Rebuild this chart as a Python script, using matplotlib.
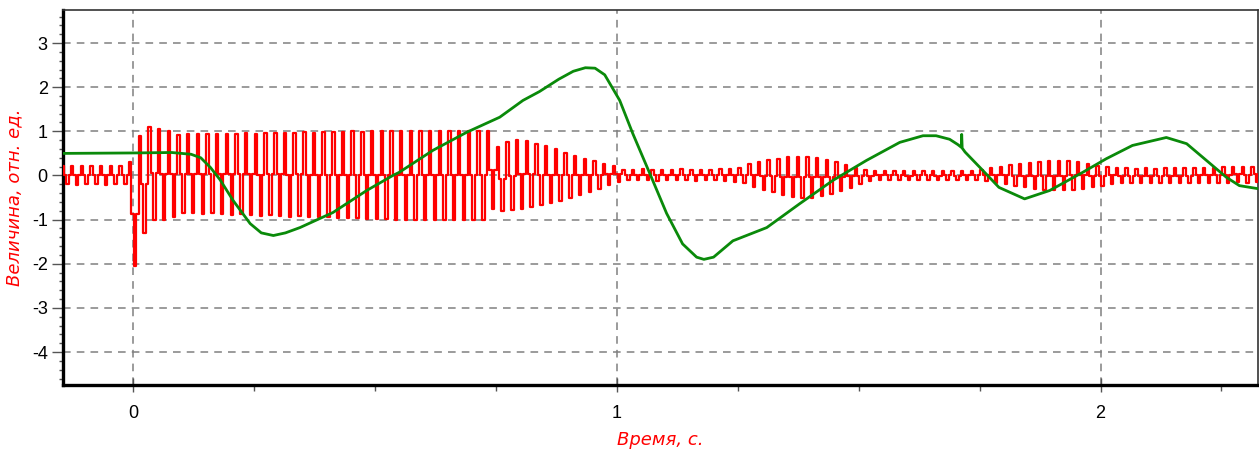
import numpy as np
import matplotlib.pyplot as plt
from matplotlib.ticker import MultipleLocator

# red signal: 50 Hz, one upper and one lower extreme per cycle
red_period = 0.02
red_start = -0.146
red_upper = [
    0.22, 0.22, 0.21, 0.22, 0.22, 0.21, 0.22, 0.30, 0.90, 1.10,
    1.05, 1.00, 0.92, 0.93, 0.94, 0.93, 0.95, 0.94, 0.95, 0.96,
    0.95, 0.96, 0.97, 0.96, 0.97, 0.98, 0.97, 0.98, 0.99, 0.98,
    1.00, 0.99, 1.00, 1.00, 1.00, 1.00, 1.00, 1.00, 1.00, 1.00,
    1.00, 1.00, 1.00, 1.00, 1.00, 0.65, 0.75, 0.80, 0.78, 0.72,
    0.66, 0.60, 0.52, 0.45, 0.38, 0.32, 0.27, 0.22, 0.13, 0.12,
    0.14, 0.12, 0.13, 0.12, 0.14, 0.12, 0.13, 0.13, 0.14, 0.15,
    0.18, 0.25, 0.30, 0.35, 0.38, 0.41, 0.42, 0.42, 0.40, 0.36,
    0.30, 0.24, 0.18, 0.12, 0.10, 0.11, 0.10, 0.10, 0.11, 0.10,
    0.10, 0.11, 0.10, 0.10, 0.11, 0.12, 0.16, 0.20, 0.23, 0.26,
    0.28, 0.30, 0.32, 0.33, 0.33, 0.30, 0.26, 0.22, 0.20, 0.17,
    0.16, 0.15, 0.16, 0.15, 0.16, 0.17, 0.16, 0.17, 0.18, 0.18,
    0.19, 0.20, 0.20, 0.20,
]
red_lower = [
    -0.20, -0.21, -0.20, -0.20, -0.21, -0.20, -0.20, -2.05, -1.30, -1.00,
    -1.00, -0.95, -0.85, -0.86, -0.87, -0.86, -0.88, -0.89, -0.88, -0.90,
    -0.91, -0.90, -0.92, -0.93, -0.92, -0.94, -0.95, -0.94, -0.96, -0.97,
    -0.96, -0.98, -0.98, -0.99, -1.00, -1.00, -1.00, -1.00, -1.00, -1.00,
    -1.00, -1.00, -1.00, -1.00, -0.75, -0.80, -0.78, -0.75, -0.72, -0.68,
    -0.62, -0.58, -0.52, -0.45, -0.38, -0.30, -0.22, -0.15, -0.10, -0.11,
    -0.10, -0.12, -0.10, -0.11, -0.10, -0.12, -0.11, -0.10, -0.12, -0.14,
    -0.18, -0.25, -0.32, -0.38, -0.44, -0.48, -0.50, -0.50, -0.47, -0.42,
    -0.35, -0.28, -0.20, -0.13, -0.10, -0.11, -0.10, -0.11, -0.10, -0.10,
    -0.11, -0.10, -0.11, -0.10, -0.11, -0.12, -0.16, -0.20, -0.24, -0.27,
    -0.30, -0.32, -0.34, -0.34, -0.33, -0.30, -0.27, -0.23, -0.20, -0.18,
    -0.17, -0.18, -0.17, -0.18, -0.17, -0.18, -0.17, -0.16, -0.17, -0.16,
    -0.16, -0.15, -0.16, -0.15,
]

# green signal: slow curve (time, value)
green_t = [-0.145, 0.0, 0.08, 0.12, 0.14, 0.16, 0.18, 0.207, 0.242, 0.265,
           0.29, 0.315, 0.345, 0.413, 0.483, 0.537, 0.55, 0.62, 0.69, 0.758,
           0.806, 0.84, 0.88, 0.91, 0.935, 0.955, 0.975, 0.99, 1.006, 1.033,
           1.068, 1.103, 1.136, 1.165, 1.18, 1.2, 1.24, 1.31, 1.378, 1.447,
           1.516, 1.585, 1.633, 1.66, 1.688, 1.705, 1.712, 1.713, 1.714, 1.72,
           1.757, 1.79, 1.843, 1.895, 1.963, 2.012, 2.066, 2.136, 2.178, 2.219,
           2.26, 2.287, 2.326]
green_v = [0.50, 0.51, 0.52, 0.48, 0.40, 0.18, -0.10, -0.57, -1.09, -1.30,
           -1.36, -1.30, -1.18, -0.84, -0.34, 0.0, 0.07, 0.57, 0.98, 1.32,
           1.70, 1.90, 2.18, 2.36, 2.44, 2.43, 2.28, 2.00, 1.70, 0.95,
           0.05, -0.86, -1.55, -1.85, -1.90, -1.85, -1.48, -1.18, -0.64, -0.11,
           0.34, 0.75, 0.90, 0.90, 0.82, 0.70, 0.64, 0.93, 0.62, 0.53,
           0.11, -0.27, -0.53, -0.34, 0.07, 0.38, 0.68, 0.86, 0.72, 0.34,
           -0.04, -0.23, -0.30]

x_ticks = [0, 1, 2]
y_ticks = [-4, -3, -2, -1, 0, 1, 2, 3]

plt.rcParams['font.family'] = ['Liberation Sans', 'DejaVu Sans']
plt.rcParams['axes.unicode_minus'] = False

fig = plt.figure(figsize=(12.59, 4.5), dpi=100)
ax = fig.add_axes([0.05, 0.144, 0.949, 0.834])

# each cycle: upper, centre, lower, centre (sample-and-hold look)
red_upper = np.array(red_upper)
red_lower = np.array(red_lower)
red_mid = (red_upper + red_lower) / 2
red_vals = np.column_stack([red_upper, red_mid, red_lower, red_mid]).ravel()
red_time = red_start + np.arange(len(red_vals)) * red_period / 4

ax.plot(red_time, red_vals, color='#ff0000', lw=1.6, drawstyle='steps-mid', zorder=3)
ax.plot(green_t, green_v, color='#0a8a0a', lw=2.0, zorder=4)

ax.set_xlim(-0.145, 2.325)
ax.set_ylim(-4.75, 3.75)
ax.set_xticks(x_ticks)
ax.set_yticks(y_ticks)
ax.xaxis.set_minor_locator(MultipleLocator(0.25))
ax.yaxis.set_minor_locator(MultipleLocator(0.2))

ax.grid(True, which='major', color='#808080', linestyle=(0, (5, 4)), lw=1.1)
ax.set_axisbelow(True)

ax.tick_params(axis='x', which='major', direction='inout', length=10, width=1,
               labelsize=13, pad=9, color='#555555')
ax.tick_params(axis='x', which='minor', direction='out', length=4, width=1, color='#555555')
ax.tick_params(axis='y', which='major', direction='out', length=8, width=1,
               labelsize=13, pad=3, color='#555555')
ax.tick_params(axis='y', which='minor', direction='out', length=3, width=1, color='#555555')

for side in ['left', 'bottom']:
    ax.spines[side].set_linewidth(2.4)
    ax.spines[side].set_color('black')
for side in ['top', 'right']:
    ax.spines[side].set_linewidth(1.2)
    ax.spines[side].set_color('#333333')

ax.set_xlabel('Время, с.', color='#ff0000', style='italic', fontsize=13,
              family='DejaVu Sans', labelpad=7)
ax.set_ylabel('Величина, отн. ед.', color='#ff0000', style='italic', fontsize=13,
              family='DejaVu Sans', labelpad=6)

fig.savefig('out.png', dpi=100)
